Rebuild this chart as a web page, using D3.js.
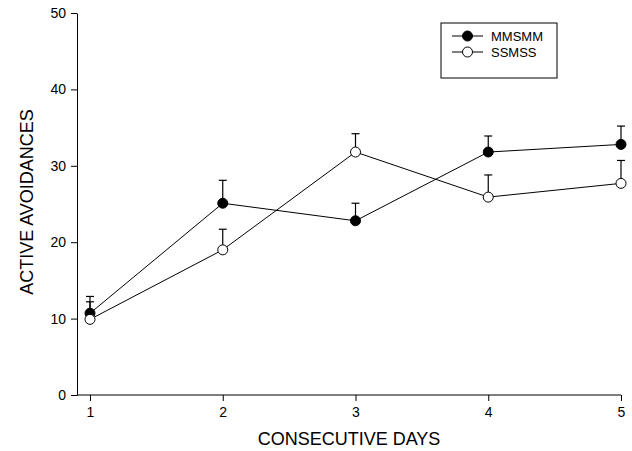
<!doctype html>
<html>
<head>
<meta charset="utf-8">
<title>Active avoidances</title>
<script src="https://cdn.jsdelivr.net/npm/d3@7"></script>
<style>
  body { margin: 0; background: #fff; }
  svg text { font-family: "Liberation Sans", Arial, sans-serif; fill: #000; }
</style>
</head>
<body>
<div id="chart"></div>
<script>
// data
var days = [1, 2, 3, 4, 5];
var mmsmm = [10.7, 25.1, 22.8, 31.8, 32.8];
var mmsmmErr = [2.2, 3.0, 2.3, 2.1, 2.4];
var ssmss = [9.9, 19.0, 31.8, 25.9, 27.7];
var ssmssErr = [2.3, 2.7, 2.4, 2.9, 3.0];
var yTicks = [0, 10, 20, 30, 40, 50];

var width = 632, height = 451;
var svg = d3.select('#chart').append('svg')
    .attr('width', width)
    .attr('height', height);

var x = d3.scaleLinear().domain([1, 5]).range([90, 621]);
var y = d3.scaleLinear().domain([0, 50]).range([395, 13]);
var axisLeftX = 77;

// axes
var yAxis = svg.append('g')
    .attr('transform', 'translate(' + axisLeftX + ',0)')
    .call(d3.axisLeft(y).tickValues(yTicks).tickSize(6).tickPadding(5).tickSizeOuter(0));
yAxis.select('.domain').attr('stroke', '#000');
yAxis.selectAll('text').style('font-size', '14px');

var xAxis = svg.append('g')
    .attr('transform', 'translate(0,' + y(0) + ')')
    .call(d3.axisBottom(x).tickValues(days).tickFormat(d3.format('d')).tickSize(6).tickPadding(6).tickSizeOuter(0));
xAxis.select('.domain').attr('d', 'M' + axisLeftX + ',0H' + x(5));
xAxis.selectAll('text').style('font-size', '14px');

// axis titles
svg.append('text')
    .attr('x', 349).attr('y', 445)
    .attr('text-anchor', 'middle')
    .style('font-size', '18px')
    .text('CONSECUTIVE DAYS');

svg.append('text')
    .attr('transform', 'translate(33,202) rotate(-90)')
    .attr('text-anchor', 'middle')
    .style('font-size', '18px')
    .text('ACTIVE AVOIDANCES');

var series = [
  { name: 'MMSMM', vals: mmsmm, err: mmsmmErr, fill: '#000' },
  { name: 'SSMSS', vals: ssmss, err: ssmssErr, fill: '#fff' }
];

var line = d3.line()
    .x(function(d, i) { return x(days[i]); })
    .y(function(d) { return y(d); });

// error bars (upper only)
series.forEach(function(s) {
  var g = svg.append('g').attr('stroke', '#000').attr('stroke-width', 1.2);
  days.forEach(function(d, i) {
    var top = y(s.vals[i] + s.err[i]);
    g.append('line')
        .attr('x1', x(d)).attr('x2', x(d))
        .attr('y1', y(s.vals[i])).attr('y2', top);
    g.append('line')
        .attr('x1', x(d) - 4).attr('x2', x(d) + 4)
        .attr('y1', top).attr('y2', top);
  });
});

// lines
series.forEach(function(s) {
  svg.append('path')
      .datum(s.vals)
      .attr('d', line)
      .attr('fill', 'none')
      .attr('stroke', '#000')
      .attr('stroke-width', 1);
});

// markers
series.forEach(function(s) {
  svg.append('g').selectAll('circle')
      .data(s.vals)
      .enter().append('circle')
      .attr('cx', function(d, i) { return x(days[i]); })
      .attr('cy', function(d) { return y(d); })
      .attr('r', 5)
      .attr('fill', s.fill)
      .attr('stroke', '#000')
      .attr('stroke-width', 1);
});

// legend
var legend = svg.append('g');
legend.append('rect')
    .attr('x', 441).attr('y', 23)
    .attr('width', 116).attr('height', 55)
    .attr('fill', '#fff')
    .attr('stroke', '#000')
    .attr('stroke-width', 1);

series.forEach(function(s, i) {
  var ly = 36 + i * 16;
  legend.append('line')
      .attr('x1', 452).attr('x2', 483)
      .attr('y1', ly).attr('y2', ly)
      .attr('stroke', '#000');
  legend.append('circle')
      .attr('cx', 467.5).attr('cy', ly).attr('r', 5)
      .attr('fill', s.fill).attr('stroke', '#000');
  legend.append('text')
      .attr('x', 491).attr('y', ly + 5)
      .style('font-size', '13px')
      .text(s.name);
});
</script>
</body>
</html>
